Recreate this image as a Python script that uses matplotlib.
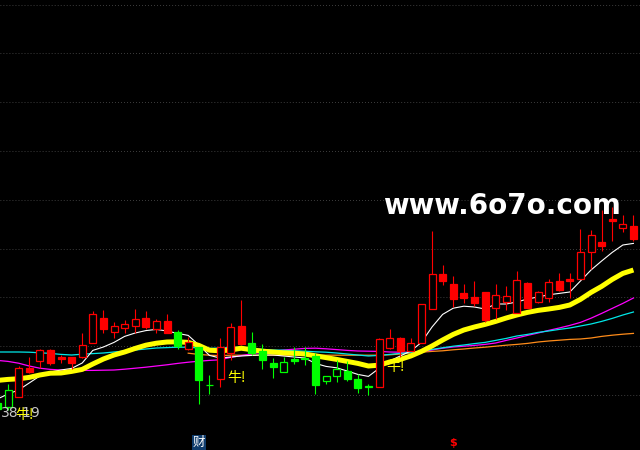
import numpy as np
import matplotlib
matplotlib.use("Agg")
import matplotlib.pyplot as plt
import matplotlib.transforms as mtransforms
from matplotlib.patches import Rectangle

# ---------------- K-line data (one entry per bar) ----------------
opens = [39.85, 39.65, 40.15, 41.6, 41.95, 42.5, 42.15, 42.15, 42.15, 42.85,
         44.1, 43.4, 43.6, 43.7, 44.1, 43.55, 43.95, 43.4, 42.55, 42.65,
         40.75, 41.05, 42.35, 43.7, 42.85, 42.45, 41.85, 41.4, 42.05, 42.1,
         42.2, 40.95, 41.2, 41.45, 41.05, 40.68, 40.65, 42.6, 43.1, 42.45,
         42.85, 44.55, 46.3, 45.8, 45.35, 45.15, 45.4, 44.6, 44.9, 44.35,
         45.85, 44.9, 45.1, 45.95, 46.05, 46.05, 47.4, 47.9, 49.05, 48.6,
         48.7]
highs = [40.0, 40.8, 41.7, 42.15, 42.55, 42.55, 42.25, 42.15, 43.35, 44.45,
         44.5, 43.9, 44.0, 44.55, 44.45, 44.05, 44.3, 43.5, 43.15, 42.65,
         41.25, 43.1, 43.85, 45.0, 43.4, 42.8, 42.1, 42.15, 42.65, 42.65,
         42.35, 41.2, 42.0, 41.95, 41.3, 40.8, 43.1, 43.55, 43.15, 43.1,
         44.8, 48.45, 46.75, 46.2, 45.8, 45.95, 45.4, 45.8, 45.7, 46.45,
         45.9, 45.45, 46.05, 46.35, 46.35, 48.55, 48.5, 49.5, 49.65, 49.25,
         49.25]
lows = [39.4, 39.5, 40.15, 41.35, 41.6, 41.75, 41.85, 41.55, 42.1, 42.85,
        43.35, 43.1, 43.35, 43.35, 43.55, 43.35, 43.35, 42.55, 42.5, 39.8,
        40.3, 40.65, 42.0, 42.75, 42.25, 41.55, 41.1, 41.4, 41.8, 41.75,
        40.3, 40.8, 40.9, 40.95, 40.35, 40.25, 40.65, 42.55, 42.15, 42.45,
        42.85, 44.55, 45.75, 44.65, 44.85, 44.7, 43.9, 44.05, 44.5, 44.35,
        44.58, 44.85, 44.9, 45.45, 45.1, 46.05, 46.55, 47.45, 47.95, 48.4,
        47.95]
closes = [39.55, 40.5, 41.6, 41.4, 42.5, 41.85, 42.05, 41.85, 42.75, 44.3,
          43.55, 43.7, 43.8, 44.05, 43.65, 43.95, 43.35, 42.7, 42.9, 41.0,
          40.74, 42.65, 43.65, 42.8, 42.35, 42.0, 41.65, 41.9, 41.95, 42.05,
          40.75, 41.2, 41.55, 41.05, 40.6, 40.65, 43.05, 43.1, 42.45, 42.85,
          44.8, 46.3, 45.95, 45.05, 45.1, 44.85, 44.0, 45.25, 45.2, 46.0,
          44.6, 45.4, 45.9, 45.5, 45.95, 47.4, 48.25, 47.7, 48.95, 48.8,
          48.05]
# r = red bar, g = green bar
bar_side = list("gg" "rrrrrrrrrrrrrrr" "g" "r" "gg" "rrr"
                "gggggggggggg" "rrrrrrrrrrrrrrrrrrrrrrrrr")

# ---------------- moving averages ----------------
ma_white = [40.05, 40.3, 40.5, 40.85, 41.2, 41.4, 41.5, 41.58, 41.85, 42.48,
            42.65, 42.88, 43.18, 43.35, 43.47, 43.53, 43.45, 43.33, 43.23, 42.75,
            42.23, 42.1, 42.15, 42.2, 42.23, 42.25, 42.25, 42.2, 42.15, 42.1,
            41.83, 41.68, 41.61, 41.45, 41.28, 41.18, 41.58, 41.95, 42.2, 42.45,
            42.88, 43.65, 44.28, 44.59, 44.69, 44.65, 44.55, 44.8, 44.8, 44.9,
            45.05, 45.15, 45.26, 45.33, 45.4, 45.95, 46.5, 46.95, 47.38, 47.75,
            47.83]
ma_yellow = [40.98, 41.03, 41.06, 41.13, 41.25, 41.34, 41.35, 41.43, 41.53, 41.8,
             42.05, 42.25, 42.4, 42.58, 42.74, 42.84, 42.9, 42.91, 42.88, 42.73,
             42.49, 42.46, 42.5, 42.59, 42.51, 42.44, 42.4, 42.36, 42.34, 42.3,
             42.21, 42.12, 42.03, 41.93, 41.83, 41.7, 41.74, 41.9, 42.03, 42.2,
             42.43, 42.7, 43.0, 43.28, 43.5, 43.65, 43.78, 43.93, 44.1, 44.25,
             44.38, 44.48, 44.55, 44.63, 44.75, 45.03, 45.38, 45.68, 46.03, 46.33,
             46.5]
ma_cyan = [42.4, 42.4, 42.4, 42.39, 42.36, 42.33, 42.28, 42.25, 42.29, 42.32,
           42.35, 42.4, 42.45, 42.5, 42.55, 42.6, 42.62, 42.64, 42.64, 42.6,
           42.58, 42.6, 42.63, 42.64, 42.58, 42.53, 42.5, 42.49, 42.46, 42.44,
           42.41, 42.39, 42.35, 42.3, 42.25, 42.2, 42.23, 42.28, 42.33, 42.38,
           42.44, 42.53, 42.61, 42.69, 42.75, 42.82, 42.88, 42.98, 43.08, 43.2,
           43.28, 43.38, 43.45, 43.53, 43.6, 43.7, 43.8, 43.93, 44.08, 44.25,
           44.4]
ma_magenta = [41.98, 41.93, 41.84, 41.7, 41.59, 41.53, 41.5, 41.5, 41.48, 41.48,
              41.49, 41.5, 41.54, 41.59, 41.64, 41.7, 41.76, 41.83, 41.89, 41.94,
              41.98, 42.01, 42.13, 42.22, 42.31, 42.39, 42.44, 42.5, 42.54, 42.58,
              42.59, 42.56, 42.52, 42.48, 42.45, 42.44, 42.43, 42.4, 42.39, 42.39,
              42.42, 42.5, 42.59, 42.65, 42.69, 42.73, 42.78, 42.85, 42.98, 43.1,
              43.23, 43.35, 43.48, 43.6, 43.73, 43.88, 44.09, 44.33, 44.58, 44.83,
              45.1]
ma_orange = [np.nan] * 18 + [
    42.34, 42.28, 42.24, 42.22, 42.24, 42.24, 42.24, 42.24, 42.24, 42.24,
    42.24, 42.24, 42.24, 42.24, 42.24, 42.24, 42.24, 42.24, 42.24, 42.26,
    42.3, 42.35, 42.39, 42.43, 42.46, 42.51, 42.55, 42.6, 42.64, 42.69,
    42.74, 42.78, 42.83, 42.9, 42.95, 42.99, 43.03, 43.05, 43.1, 43.18,
    43.24, 43.29, 43.33]

grid_levels = [40.25, 42.69, 45.13, 47.57, 50.01, 52.45, 54.89, 57.33, 59.77]
signal_bars = [2, 22, 37]
signal_text = "牛!"
low_label = "38.19"
event_marks = [(19, "财"), (43, "$")]
watermark = "www.6o7o.com"

n = len(opens)
x = np.arange(n)

# ---------------- figure ----------------
fig = plt.figure(figsize=(6.4, 4.5), dpi=100, facecolor="black")
ax = fig.add_axes([0, 0, 1, 1])
ax.set_facecolor("black")
ax.set_xlim(0.245, 60.62)
ax.set_ylim(37.5, 60.0)
ax.set_axis_off()

for lv in grid_levels:
    ax.axhline(lv, color="#4c4c4c", lw=0.7, ls=(0, (0.8, 2.3)), zorder=0)

ax.plot(x, ma_orange, color="#ff8c1a", lw=0.9, zorder=1)
ax.plot(x, ma_magenta, color="#ff00ff", lw=0.9, zorder=1)
ax.plot(x, ma_cyan, color="#00e8e8", lw=0.9, zorder=1)
ax.plot(x, ma_white, color="white", lw=0.8, zorder=2)
ax.plot(x, ma_yellow, color="#ffff00", lw=3.6, zorder=2, solid_capstyle="butt")

w = 0.66
for i in range(n):
    c = "#ff0000" if bar_side[i] == "r" else "#00ff00"
    o, h, l, cl = opens[i], highs[i], lows[i], closes[i]
    ax.vlines(i, l, h, color=c, lw=0.8, zorder=3)
    face = "black" if cl > o else c
    ax.add_patch(Rectangle((i - w / 2, min(o, cl)), w, abs(cl - o),
                           facecolor=face, edgecolor=c, lw=0.9, zorder=4))

for i in signal_bars:
    ax.annotate(signal_text, xy=(i - w / 2, lows[i]), xytext=(0, -8),
                textcoords="offset points", ha="left", va="top",
                color="#ffff00", fontsize=10,
                family=["Noto Sans CJK SC", "DejaVu Sans"], zorder=5)

ax.text(0.3, min(lows) - 0.07, low_label, color="#c8c8c8", fontsize=10,
        ha="left", va="center", zorder=5)

ax.text(383 / 640, 1 - 214 / 450, watermark, transform=ax.transAxes,
        color="white", fontsize=20, fontweight="bold", family="DejaVu Sans",
        ha="left", va="baseline", zorder=6)

trans = mtransforms.blended_transform_factory(ax.transData, ax.transAxes)
for i, txt in event_marks:
    if txt == "财":
        ax.text(i, 0.002, txt, transform=trans, color="white", fontsize=9,
                ha="center", va="bottom",
                family=["Noto Sans CJK SC", "DejaVu Sans"],
                bbox=dict(boxstyle="square,pad=0.08", fc="#103c6c", ec="none"),
                zorder=6)
    else:
        ax.text(i, 0.004, txt, transform=trans, color="#ff0000", fontsize=8,
                fontweight="bold", ha="center", va="bottom", zorder=6)

fig.savefig("out.png", dpi=100, facecolor="black")
